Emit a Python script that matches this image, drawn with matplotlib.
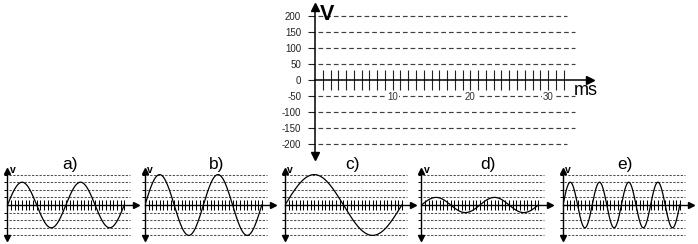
import numpy as np
import matplotlib
matplotlib.use("Agg")
import matplotlib.pyplot as plt
from matplotlib.ticker import FixedLocator, FuncFormatter

plt.rcParams['font.family'] = ['Liberation Sans', 'DejaVu Sans']

# ---- data ----
main_yticks = [200, 150, 100, 50, 0, -50, -100, -150, -200]
main_grid = [200, 150, 100, 50, -50, -100, -150, -200]
main_xticks = list(range(1, 33))
main_xlabels = [10, 20, 30]

panel_labels = ["a)", "b)", "c)", "d)", "e)"]
amplitudes = [150, 200, 200, 50, 150]      # V
periods = [16, 16, 32, 16, 8]              # ms
durations = [32, 32, 32, 32, 32]           # ms
small_grid = [200, 150, 100, 50, -50, -100, -150, -200]
small_xticks = list(range(1, 33))

W, H = 698, 244
fig = plt.figure(figsize=(W / 100, H / 100), dpi=100)


def px_axes(x0, y_top, x1, y_bot):
    return fig.add_axes([x0 / W, (H - y_bot) / H, (x1 - x0) / W, (y_bot - y_top) / H])


# ---- main axes ----
mx, my = 7.77, 0.32
ox, oy = 315, 80
xmax, ytop, ybot = 35.4, 228, -237.5
ax = px_axes(ox, oy - ytop * my, ox + xmax * mx, oy - ybot * my)
ax.set_xlim(0, xmax)
ax.set_ylim(ybot, ytop)
for s in ['top', 'right']:
    ax.spines[s].set_visible(False)
ax.spines['left'].set_position(('data', 0))
ax.spines['bottom'].set_position(('data', 0))
for s in ['left', 'bottom']:
    ax.spines[s].set_linewidth(1.1)
ax.patch.set_alpha(0)

for g in main_grid:
    xend = 32.4 if abs(g) == 200 else 33.5
    ax.plot([0.4, xend], [g, g], color='#404040', lw=0.85, ls=(0, (4, 2.5)), zorder=1)

ax.yaxis.set_major_locator(FixedLocator(main_yticks))
ax.yaxis.set_major_formatter(FuncFormatter(lambda v, p: f"{int(v)}"))
ax.tick_params(axis='y', direction='out', length=5, width=0.8, labelsize=7,
               pad=5, colors='#222222')
ax.xaxis.set_major_locator(FixedLocator(main_xticks))
ax.xaxis.set_major_formatter(FuncFormatter(
    lambda v, p: f"{int(v)}" if int(round(v)) in main_xlabels else ""))
ax.tick_params(axis='x', direction='inout', length=14, width=0.8, labelsize=7,
               pad=1.5, colors='#222222', labelcolor='#333333')
for lab in ax.get_xticklabels():
    lab.set_bbox(dict(facecolor='white', edgecolor='none', pad=0.6))

ax.plot(0, 1, marker='^', ms=6, color='k', transform=ax.get_xaxis_transform(), clip_on=False)
ax.plot(0, 0, marker='v', ms=6, color='k', transform=ax.get_xaxis_transform(), clip_on=False)
ax.plot(1, 0, marker='>', ms=6, color='k', transform=ax.get_yaxis_transform(), clip_on=False)
ax.text(1.5, 206, "V", fontsize=15.5, fontweight='bold', ha='center', va='center')
ax.text(34.9, -33, "ms", fontsize=13, ha='center', va='center')

# ---- small panels ----
sx, sy = 3.65, 0.152
soy = 205
panel_x = [7.5, 145, 285, 421.5, 563]
sxmax, sytop, sybot = 35.2, 224, -217
title_x = [17, 19.5, 18.4, 18.2, 17]
for i, px0 in enumerate(panel_x):
    a = px_axes(px0, soy - sytop * sy, px0 + sxmax * sx, soy - sybot * sy)
    a.set_xlim(0, sxmax)
    a.set_ylim(sybot, sytop)
    a.patch.set_alpha(0)
    for s in ['top', 'right']:
        a.spines[s].set_visible(False)
    a.spines['left'].set_position(('data', 0))
    a.spines['bottom'].set_position(('data', 0))
    for s in ['left', 'bottom']:
        a.spines[s].set_linewidth(1.0)
    for g in small_grid:
        a.plot([0.3, 33.5], [g, g], color='#505050', lw=0.75, ls=(0, (2.2, 1.4)), zorder=1)
    a.yaxis.set_major_locator(FixedLocator(small_grid))
    a.yaxis.set_major_formatter(FuncFormatter(lambda v, p: ""))
    a.tick_params(axis='y', direction='out', length=2, width=0.7)
    a.xaxis.set_major_locator(FixedLocator(small_xticks))
    a.xaxis.set_major_formatter(FuncFormatter(lambda v, p: ""))
    a.tick_params(axis='x', direction='inout', length=6.5, width=0.75)
    a.plot(0, 1, marker='^', ms=4.5, color='k', transform=a.get_xaxis_transform(), clip_on=False)
    a.plot(0, 0, marker='v', ms=4.5, color='k', transform=a.get_xaxis_transform(), clip_on=False)
    a.plot(1, 0, marker='>', ms=4.5, color='k', transform=a.get_yaxis_transform(), clip_on=False)
    a.text(1.4, 228, "v", fontsize=7.5, fontweight='bold', ha='center', va='center', clip_on=False)
    a.text(title_x[i], 268, panel_labels[i], fontsize=12.5, ha='center', va='center', clip_on=False)
    t = np.linspace(0, durations[i], 400)
    a.plot(t, amplitudes[i] * np.sin(2 * np.pi * t / periods[i]), color='k', lw=0.9, zorder=3)

fig.savefig("out.png", dpi=100)
